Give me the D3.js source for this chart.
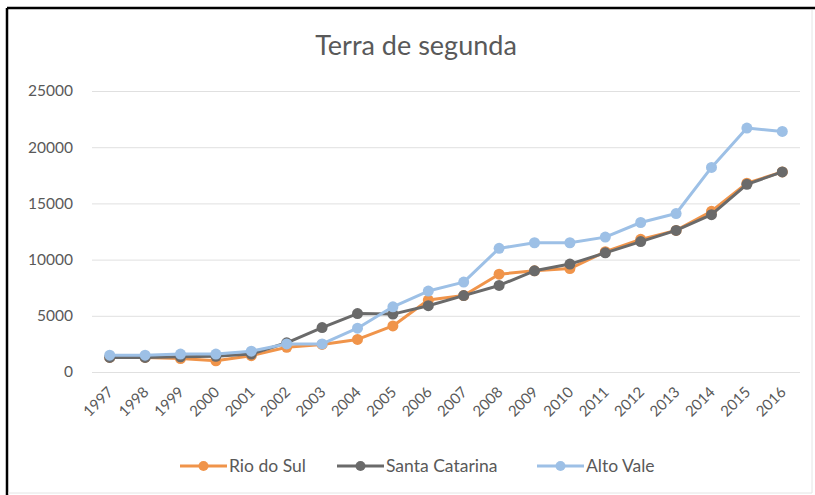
<!DOCTYPE html>
<html>
<head>
<meta charset="utf-8">
<script src="https://cdn.jsdelivr.net/npm/d3@7"></script>
<style>
  body { margin: 0; background: #fff; }
  svg { display: block; }
</style>
</head>
<body>
<svg id="chart"></svg>
<script>
var years = ["1997","1998","1999","2000","2001","2002","2003","2004","2005","2006",
             "2007","2008","2009","2010","2011","2012","2013","2014","2015","2016"];
var rioDoSul = [1300,1300,1200,1000,1450,2200,2450,2900,4100,6400,
                6800,8700,9000,9200,10700,11800,12600,14300,16800,17800];
var santaCatarina = [1300,1300,1350,1400,1600,2600,3950,5200,5150,5900,
                     6800,7700,9000,9600,10600,11600,12600,14000,16700,17800];
var altoVale = [1500,1500,1600,1600,1850,2500,2500,3900,5800,7200,
                8000,11000,11500,11500,12000,13300,14100,18200,21700,21400];
var yTicks = [0,5000,10000,15000,20000,25000];
var seriesNames = ["Rio do Sul","Santa Catarina","Alto Vale"];
var seriesColors = ["#F0944A","#6A6A6A","#9DC0E6"];

var width = 815;
var height = 495;
var font = "Lato, 'Open Sans', sans-serif";

var svg = d3.select("#chart").attr("width", width).attr("height", height);

// frame
svg.append("line").attr("x1", 7).attr("y1", 8).attr("x2", 815).attr("y2", 8)
    .attr("stroke", "#000").attr("stroke-width", 2.5);
svg.append("line").attr("x1", 7).attr("y1", 8).attr("x2", 7).attr("y2", 495)
    .attr("stroke", "#000").attr("stroke-width", 2.5);
svg.append("line").attr("x1", 812).attr("y1", 10).attr("x2", 812).attr("y2", 493)
    .attr("stroke", "#e4e4e4").attr("stroke-width", 1);
svg.append("line").attr("x1", 8).attr("y1", 493).attr("x2", 812).attr("y2", 493)
    .attr("stroke", "#e4e4e4").attr("stroke-width", 1);

var x = d3.scalePoint().domain(years).range([92, 800]).padding(0.5);
var y = d3.scaleLinear().domain([0, 25000]).range([372, 91]);

// title
svg.append("text")
    .attr("x", 416).attr("y", 55)
    .attr("text-anchor", "middle")
    .attr("font-family", font).attr("font-size", 27)
    .attr("fill", "#595959")
    .text("Terra de segunda");

// gridlines + y labels
var yAxis = svg.append("g").attr("transform", "translate(92,0)")
    .call(d3.axisLeft(y).tickValues(yTicks).tickFormat(d3.format("d")).tickSize(-708).tickPadding(19));
yAxis.select(".domain").remove();
yAxis.selectAll(".tick line").attr("stroke", "#e0e0e0").attr("stroke-width", 1);
yAxis.selectAll(".tick text").attr("font-family", font).attr("font-size", 15.5).attr("fill", "#595959");

// x labels
var xAxis = svg.append("g").attr("transform", "translate(0,372)")
    .call(d3.axisBottom(x).tickSize(0).tickPadding(0));
xAxis.select(".domain").remove();
xAxis.selectAll(".tick text")
    .attr("font-family", font).attr("font-size", 15).attr("fill", "#595959")
    .attr("text-anchor", "end")
    .attr("dy", null)
    .attr("transform", "translate(4,21) rotate(-45)");

var allSeries = [rioDoSul, santaCatarina, altoVale];
var line = d3.line().x(function(d, i) { return x(years[i]); }).y(function(d) { return y(d); });

allSeries.forEach(function(vals, k) {
    var g = svg.append("g");
    g.append("path").datum(vals)
        .attr("d", line)
        .attr("fill", "none")
        .attr("stroke", seriesColors[k])
        .attr("stroke-width", 3)
        .attr("stroke-linejoin", "round");
    g.selectAll("circle").data(vals).enter().append("circle")
        .attr("cx", function(d, i) { return x(years[i]); })
        .attr("cy", function(d) { return y(d); })
        .attr("r", 5.5)
        .attr("fill", seriesColors[k]);
});

// legend
var legendX = [180, 337, 537];
seriesNames.forEach(function(name, k) {
    var lg = svg.append("g").attr("transform", "translate(" + legendX[k] + ",466)");
    lg.append("line").attr("x1", 0).attr("x2", 47).attr("y1", 0).attr("y2", 0)
        .attr("stroke", seriesColors[k]).attr("stroke-width", 3);
    lg.append("circle").attr("cx", 23.5).attr("cy", 0).attr("r", 5).attr("fill", seriesColors[k]);
    lg.append("text").attr("x", 49).attr("y", 6)
        .attr("font-family", font).attr("font-size", 17.5).attr("fill", "#595959")
        .text(name);
});
</script>
</body>
</html>
